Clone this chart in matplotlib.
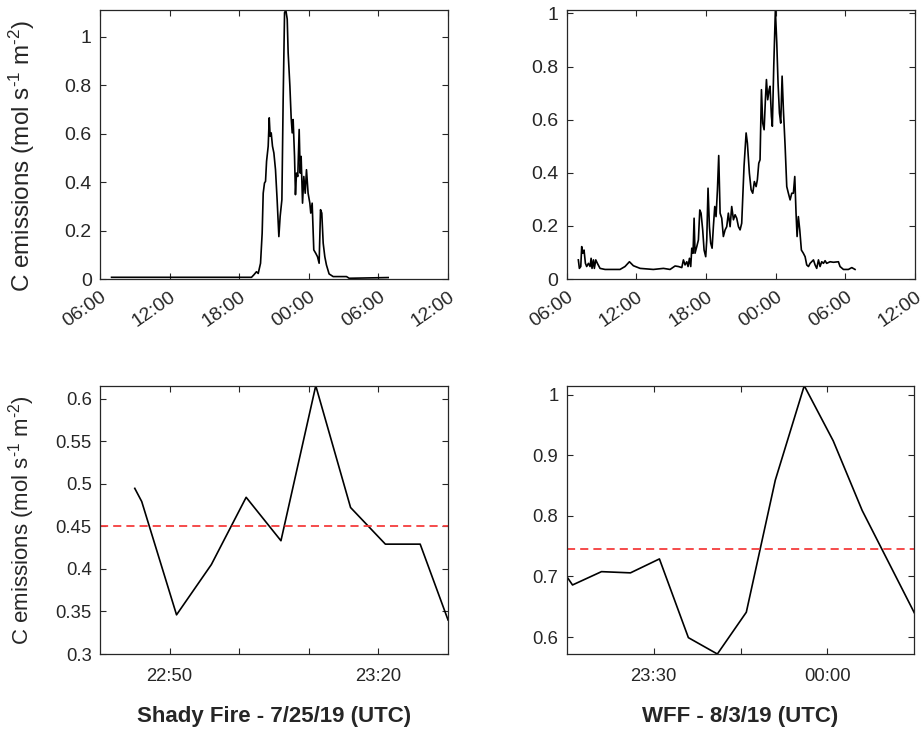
import matplotlib
matplotlib.use("Agg")
import matplotlib.pyplot as plt

plt.rcParams['font.family'] = ['Liberation Sans', 'DejaVu Sans']
plt.rcParams['mathtext.fontset'] = 'custom'
plt.rcParams['mathtext.rm'] = 'Liberation Sans'
plt.rcParams['mathtext.it'] = 'Liberation Sans:italic'
plt.rcParams['mathtext.bf'] = 'Liberation Sans:bold'

# ---------------- data ----------------
# Top panels: hours elapsed since 06:00 on the first day
top_ticklabels = ["06:00", "12:00", "18:00", "00:00", "06:00", "12:00"]

shady_hours = [1.00, 13.06, 13.26, 13.49, 13.64, 13.84, 13.98, 14.07, 14.18, 14.27,
               14.36, 14.50, 14.59, 14.67, 14.76, 14.87, 14.99, 15.13, 15.27, 15.42,
               15.53, 15.68, 15.79, 15.91, 16.02, 16.14, 16.22, 16.37, 16.48, 16.57,
               16.65, 16.77, 16.85, 16.94, 17.05, 17.17, 17.26, 17.34, 17.46, 17.57,
               17.69, 17.80, 17.94, 18.09, 18.17, 18.29, 18.43, 18.60, 18.75, 18.89,
               19.01, 19.12, 19.24, 19.38, 19.52, 19.75, 20.10, 21.25, 21.48, 24.84]
shady_emis = [0.007, 0.007, 0.017, 0.030, 0.023, 0.065, 0.189, 0.354, 0.396, 0.403,
              0.486, 0.548, 0.665, 0.589, 0.603, 0.548, 0.520, 0.451, 0.327, 0.175,
              0.258, 0.327, 0.741, 1.099, 1.110, 1.072, 0.934, 0.796, 0.665, 0.603,
              0.658, 0.506, 0.348, 0.437, 0.423, 0.617, 0.437, 0.506, 0.313, 0.423,
              0.354, 0.451, 0.354, 0.313, 0.272, 0.313, 0.120, 0.106, 0.092, 0.065,
              0.286, 0.272, 0.148, 0.092, 0.058, 0.021, 0.010, 0.010, 0.003, 0.006]

wff_hours = [1.00, 1.09, 1.21, 1.29, 1.38, 1.49, 1.61, 1.72, 1.87, 2.01,
             2.10, 2.18, 2.30, 2.38, 2.50, 2.64, 2.87, 3.30, 4.59, 5.02,
             5.40, 5.74, 6.32, 7.46, 8.33, 8.90, 9.33, 9.62, 9.91, 10.05,
             10.19, 10.34, 10.45, 10.57, 10.68, 10.77, 10.88, 10.97, 11.05, 11.20,
             11.34, 11.46, 11.57, 11.71, 11.83, 11.97, 12.06, 12.17, 12.29, 12.40,
             12.52, 12.63, 12.75, 12.86, 12.98, 13.09, 13.21, 13.35, 13.49, 13.64,
             13.78, 13.92, 14.07, 14.21, 14.36, 14.50, 14.64, 14.79, 14.93, 15.07,
             15.27, 15.45, 15.56, 15.73, 15.88, 16.02, 16.16, 16.31, 16.42, 16.54,
             16.65, 16.77, 16.88, 17.00, 17.11, 17.20, 17.31, 17.43, 17.51, 17.63,
             17.71, 17.83, 17.97, 18.09, 18.20, 18.32, 18.43, 18.55, 18.66, 18.81,
             18.95, 19.09, 19.24, 19.38, 19.52, 19.64, 19.75, 19.84, 19.95, 20.07,
             20.21, 20.38, 20.53, 20.67, 20.82, 20.96, 21.10, 21.25, 21.39, 21.53,
             21.68, 21.82, 21.96, 22.11, 22.25, 22.39, 22.68, 22.97, 23.40, 23.54,
             23.83, 24.26, 24.55, 24.83]
wff_emis = [0.072, 0.040, 0.047, 0.122, 0.097, 0.109, 0.059, 0.047, 0.059, 0.047,
            0.078, 0.040, 0.072, 0.040, 0.072, 0.059, 0.040, 0.036, 0.036, 0.047,
            0.065, 0.050, 0.040, 0.036, 0.040, 0.036, 0.049, 0.047, 0.043, 0.072,
            0.053, 0.065, 0.047, 0.078, 0.047, 0.116, 0.097, 0.229, 0.097, 0.122,
            0.147, 0.260, 0.248, 0.185, 0.109, 0.084, 0.147, 0.342, 0.197, 0.135,
            0.116, 0.197, 0.273, 0.235, 0.336, 0.465, 0.248, 0.229, 0.160, 0.185,
            0.197, 0.248, 0.197, 0.273, 0.223, 0.242, 0.229, 0.197, 0.185, 0.210,
            0.424, 0.550, 0.512, 0.399, 0.336, 0.323, 0.367, 0.348, 0.374, 0.436,
            0.449, 0.713, 0.587, 0.562, 0.675, 0.751, 0.675, 0.713, 0.726, 0.613,
            0.575, 0.801, 1.013, 0.889, 0.738, 0.625, 0.587, 0.764, 0.638, 0.499,
            0.348, 0.323, 0.298, 0.323, 0.323, 0.386, 0.248, 0.160, 0.235, 0.185,
            0.109, 0.097, 0.084, 0.053, 0.047, 0.059, 0.065, 0.072, 0.053, 0.040,
            0.072, 0.047, 0.065, 0.059, 0.069, 0.059, 0.065, 0.063, 0.065, 0.047,
            0.036, 0.036, 0.043, 0.036]

# Bottom-left: minutes since 22:40 (7/25/19)
shady_zoom_min = [5, 6, 11, 16, 21, 26, 31, 36, 41, 44, 46, 50]
shady_zoom_emis = [0.4945, 0.479, 0.346, 0.405, 0.484, 0.433, 0.615, 0.472, 0.429, 0.429, 0.429, 0.340]
shady_mean = 0.45
shady_ticks = [10, 20, 30, 40]
shady_ticklabels = ["22:50", "", "", "23:20"]

# Bottom-right: minutes since 23:15 (8/3/19)
wff_zoom_min = [0, 1, 6, 11, 16, 21, 26, 31, 36, 41, 46, 51, 60]
wff_zoom_emis = [0.700, 0.686, 0.708, 0.706, 0.729, 0.599, 0.572, 0.641, 0.859, 1.015, 0.924, 0.809, 0.640]
wff_mean = 0.745
wff_ticks = [15, 30, 45]
wff_ticklabels = ["23:30", "", "00:00"]

ylabel = "C emissions (mol s$^{\u2010 1}$ m$^{\u2010 2}$)"

# ---------------- figure ----------------
fig = plt.figure(figsize=(9.23, 7.30), dpi=100)
edge = '#262626'
txt = '#262626'
red = '#f53d3d'

def style(ax, fs):
    for s in ax.spines.values():
        s.set_color(edge)
        s.set_linewidth(0.9)
    ax.tick_params(direction='in', top=True, right=True, length=4, width=0.8,
                   colors=edge, labelcolor=txt, labelsize=fs, pad=6)

ax1 = fig.add_axes([0.1083, 0.6178, 0.3771, 0.3685])
ax2 = fig.add_axes([0.6140, 0.6178, 0.3774, 0.3685])
ax3 = fig.add_axes([0.1083, 0.1041, 0.3771, 0.3675])
ax4 = fig.add_axes([0.6140, 0.1041, 0.3766, 0.3675])

for ax, h, e in [(ax1, shady_hours, shady_emis), (ax2, wff_hours, wff_emis)]:
    ax.plot(h, e, color='black', lw=1.2)
    ax.set_xlim(0, 30)
    ax.set_ylim(0, max(e))
    ax.set_xticks(range(0, 31, 6))
    ax.set_xticklabels(top_ticklabels, rotation=35, ha='right', rotation_mode='anchor')
    style(ax, 14)
    ax.tick_params(axis='x', pad=7)
    ax.set_yticks([0, 0.2, 0.4, 0.6, 0.8, 1])
    ax.set_yticklabels(["0", "0.2", "0.4", "0.6", "0.8", "1"])
ax1.set_ylabel(ylabel, fontsize=17.5, color=txt)
ax1.yaxis.set_label_coords(-0.181, 0.459)

# bottom-left
ax3.plot(shady_zoom_min, shady_zoom_emis, color='black', lw=1.2)
ax3.axhline(shady_mean, color=red, lw=1.3, ls=(0, (4.5, 2.8)))
ax3.set_xlim(0, 50)
ax3.set_ylim(0.3, 0.615)
ax3.set_xticks(shady_ticks)
ax3.set_xticklabels(shady_ticklabels)
ax3.set_yticks([0.3, 0.35, 0.4, 0.45, 0.5, 0.55, 0.6])
ax3.set_yticklabels(["0.3", "0.35", "0.4", "0.45", "0.5", "0.55", "0.6"])
style(ax3, 13.3)
ax3.tick_params(axis='x', pad=10)
ax3.set_ylabel(ylabel, fontsize=16, color=txt)
ax3.yaxis.set_label_coords(-0.181, 0.5)
ax3.set_xlabel("Shady Fire - 7/25/19 (UTC)", fontsize=16, fontweight='bold', color=txt, labelpad=15)

# bottom-right
ax4.plot(wff_zoom_min, wff_zoom_emis, color='black', lw=1.2)
ax4.axhline(wff_mean, color=red, lw=1.3, ls=(0, (4.5, 2.8)))
ax4.set_xlim(0, 60)
ax4.set_ylim(min(wff_zoom_emis), max(wff_zoom_emis))
ax4.set_xticks(wff_ticks)
ax4.set_xticklabels(wff_ticklabels)
ax4.set_yticks([0.6, 0.7, 0.8, 0.9, 1.0])
ax4.set_yticklabels(["0.6", "0.7", "0.8", "0.9", "1"])
style(ax4, 13.3)
ax4.tick_params(axis='x', pad=10)
ax4.set_xlabel("WFF - 8/3/19 (UTC)", fontsize=16, fontweight='bold', color=txt, labelpad=15)

fig.savefig("out.png", dpi=100)
